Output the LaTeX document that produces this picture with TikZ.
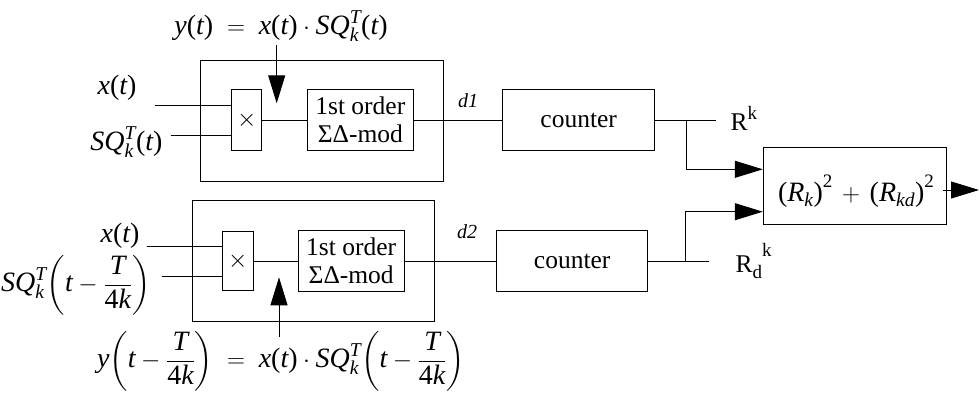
\documentclass[tikz,border=0pt]{standalone}
\usepackage{fontspec}
\usepackage{amsmath}
\setmainfont{Liberation Serif}
\usetikzlibrary{arrows.meta}
% italic letters and upright text parentheses in formulas
\newcommand\vi[1]{\textit{#1}}
\newcommand\lp{\textup{(}}
\newcommand\rp{\textup{)}}
% raised / lowered small text for labels
\newcommand\hiw[2]{\raisebox{#1}{\fontsize{19}{19}\selectfont #2}}
\newcommand\frT{\frac{\vi{T}}{\textup{4}\vi{k}}}
\begin{document}
\begin{tikzpicture}[x=1pt,y=-1pt,line width=1pt,
  every node/.style={font=\fontsize{25.5}{28}\selectfont},
  blk/.style={draw,inner sep=0pt},
  mathlbl/.style={font=\fontsize{28}{30}\selectfont,inner sep=0pt},
  smalllbl/.style={font=\fontsize{20}{22}\selectfont\itshape,inner sep=0pt},
  sig/.style={-{Triangle[length=28pt,width=17pt]}}]
\useasboundingbox (0,0) rectangle (979,394);

% ---- upper channel ----
\node[blk,minimum width=242.3pt,minimum height=121pt] (outer1) at (321.85,120.5) {};
\node[blk,minimum width=30pt,minimum height=60.7pt] (mult1) at (246.7,120) {$\times$};
\node[blk,minimum width=106pt,minimum height=60.7pt,align=center] (sd1) at (360.3,120) {1st order\\ΣΔ-mod};
\node[blk,minimum width=151.5pt,minimum height=60.7pt] (cnt1) at (578.7,120) {counter};

\coordinate (in1x) at (155,105);
\coordinate (in1s) at (170.7,135.3);
\draw (in1x) -- (in1x -| mult1.west);
\draw (in1s) -- (in1s -| mult1.west);
\draw (mult1.east) -- (sd1.west);
\draw (sd1.east) -- (cnt1.west);

\node[mathlbl,anchor=east] (lx1) at (137,88) {$\vi{x}\lp\vi{t}\rp$};
\node[mathlbl,anchor=east] (lsq1) at (163,142) {$\vi{SQ}_{\vi{k}}^{\vi{T}}\lp\vi{t}\rp$};
\node[mathlbl] (eq1) at (281,26) {$\vi{y}\lp\vi{t}\rp\;=\;\vi{x}\lp\vi{t}\rp\cdot\vi{SQ}_{\vi{k}}^{\vi{T}}\lp\vi{t}\rp$};
\coordinate (y1s) at (276.7,45);
\coordinate (y1e) at (276.7,103.3);
\draw[sig] (y1s) -- (y1e);
\node[smalllbl] (d1) at (468,101) {d1};

% ---- lower channel ----
\node[blk,minimum width=242pt,minimum height=120.3pt] (outer2) at (313.3,260.9) {};
\node[blk,minimum width=31pt,minimum height=59.7pt] (mult2) at (237.8,261) {$\times$};
\node[blk,minimum width=105.7pt,minimum height=60.3pt,align=center] (sd2) at (351.2,261) {1st order\\ΣΔ-mod};
\node[blk,minimum width=151pt,minimum height=61pt] (cnt2) at (572.2,261) {counter};

\coordinate (in2x) at (146.7,246);
\coordinate (in2s) at (161.7,276.7);
\draw (in2x) -- (in2x -| mult2.west);
\draw (in2s) -- (in2s -| mult2.west);
\draw (mult2.east) -- (sd2.west);
\draw (sd2.east) -- (cnt2.west);

\node[mathlbl,anchor=east] (lx2) at (140,236) {$\vi{x}\lp\vi{t}\rp$};
\node[mathlbl,anchor=east] (lsq2) at (151,285) {$\displaystyle\vi{SQ}_{\vi{k}}^{\vi{T}}\!\left(\vi{t}-\frT\right)$};
\node[mathlbl] (eq2) at (281,361) {$\displaystyle\vi{y}\!\left(\vi{t}-\frT\right)\;=\;\vi{x}\lp\vi{t}\rp\cdot\vi{SQ}_{\vi{k}}^{\vi{T}}\!\left(\vi{t}-\frT\right)$};
\coordinate (y2s) at (279,336.7);
\coordinate (y2e) at (279,277.3);
\draw[sig] (y2s) -- (y2e);
\node[smalllbl] (d2) at (467,231.7) {d2};

% ---- combiner ----
\node[blk,minimum width=183.4pt,minimum height=76.6pt] (big) at (855,186) {};
\node[mathlbl,anchor=base] (form) at (856,201)
  {$\lp\vi{R}_{\vi{k}}\rp\hiw{14pt}{2}\,+\,\lp\vi{R}_{\vi{kd}}\rp\hiw{14pt}{2}$};

\coordinate (rk) at (716,120);
\coordinate (br1) at (686.7,120);
\draw (cnt1.east) -- (rk);
\draw[sig] (br1) |- ([yshift=16.7pt]big.west);
\node[inner sep=0pt,anchor=base west] (rklbl) at (730,130) {R\hiw{11pt}{k}};

\coordinate (rdk) at (709.3,261);
\coordinate (br2) at (685,261);
\draw (cnt2.east) -- (rdk);
\draw[sig] (br2) |- ([yshift=-25.7pt]big.west);
\node[inner sep=0pt,anchor=base west] (rdklbl) at (735,272) {R\hiw{-6pt}{d}\hiw{16pt}{k}};

\coordinate (out) at (979,190);
\draw[sig] ([xshift=-4pt]big.east |- out) -- (out);
\end{tikzpicture}
\end{document}
